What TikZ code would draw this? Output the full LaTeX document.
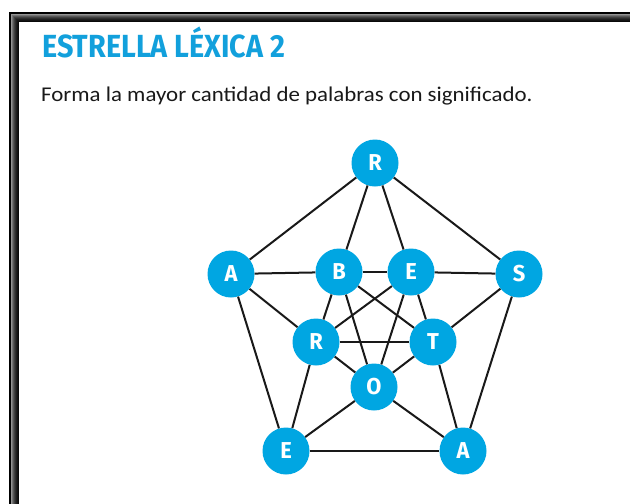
\documentclass[tikz,border=0pt]{standalone}
\usepackage{fontspec}
\setmainfont{Carlito}[FakeStretch=1.09]
\newfontfamily\titlefont{Fira Sans}[FakeStretch=0.90]
\newfontfamily\letterfont{Fira Sans}[FakeStretch=0.95]
\definecolor{starblue}{RGB}{0,166,226}
\definecolor{titleblue}{RGB}{18,160,220}
\definecolor{inktext}{RGB}{25,25,25}
\begin{document}
\begin{tikzpicture}[x=1pt,y=-1pt,
  letternode/.style={circle,fill=starblue,minimum size=47pt,inner sep=0pt,
    text=white,font=\letterfont\bfseries\fontsize{23}{23}\selectfont},
  edge/.style={draw=black!90,line width=2pt}]
\useasboundingbox (0,0) rectangle (630,504);
\fill[white] (0,0) rectangle (630,504);
% frame with inner shadow
\foreach \i/\g in {8/96,7/92,6/88,5/82,4/75,3/66,2/55,1/42}{
  \draw[line width=1.2pt,draw=black!\g!white] (10+\i,504) -- (10+\i,13+\i) -- (630,13+\i);
}
\draw[line width=2pt,black] (10,504) -- (10,13) -- (630,13);
% texts
\node[anchor=base west,inner sep=0pt,text=titleblue,font=\titlefont\bfseries\fontsize{32}{32}\selectfont] (title) at (42,57) {ESTRELLA LÉXICA 2};
\node[anchor=base west,inner sep=0pt,text=inktext,font=\fontsize{21}{21}\selectfont] (subtitle) at (41,101) {Forma la mayor cantidad de palabras con significado.};
% nodes
\node[letternode] (Rt) at (375,163) {R};
\node[letternode] (Al) at (231,274) {A};
\node[letternode] (B) at (339,272) {B};
\node[letternode] (Et) at (411,272) {E};
\node[letternode] (S) at (519,274) {S};
\node[letternode] (Ri) at (316,342) {R};
\node[letternode] (T) at (433,342) {T};
\node[letternode] (O) at (374,387) {O};
\node[letternode] (Eb) at (286,451) {E};
\node[letternode] (Ab) at (463,451) {A};
% edges
\foreach \a/\b in {Rt/Al,Rt/S,Rt/B,Rt/Et,Al/B,B/Et,Et/S,Al/Ri,Al/Eb,S/T,S/Ab,B/Ri,B/O,B/T,Et/Ri,Et/O,Et/T,Ri/T,Ri/O,T/O,Ri/Eb,T/Ab,O/Eb,O/Ab,Eb/Ab}{
  \draw[edge] (\a) -- (\b);
}
\end{tikzpicture}
\end{document}
